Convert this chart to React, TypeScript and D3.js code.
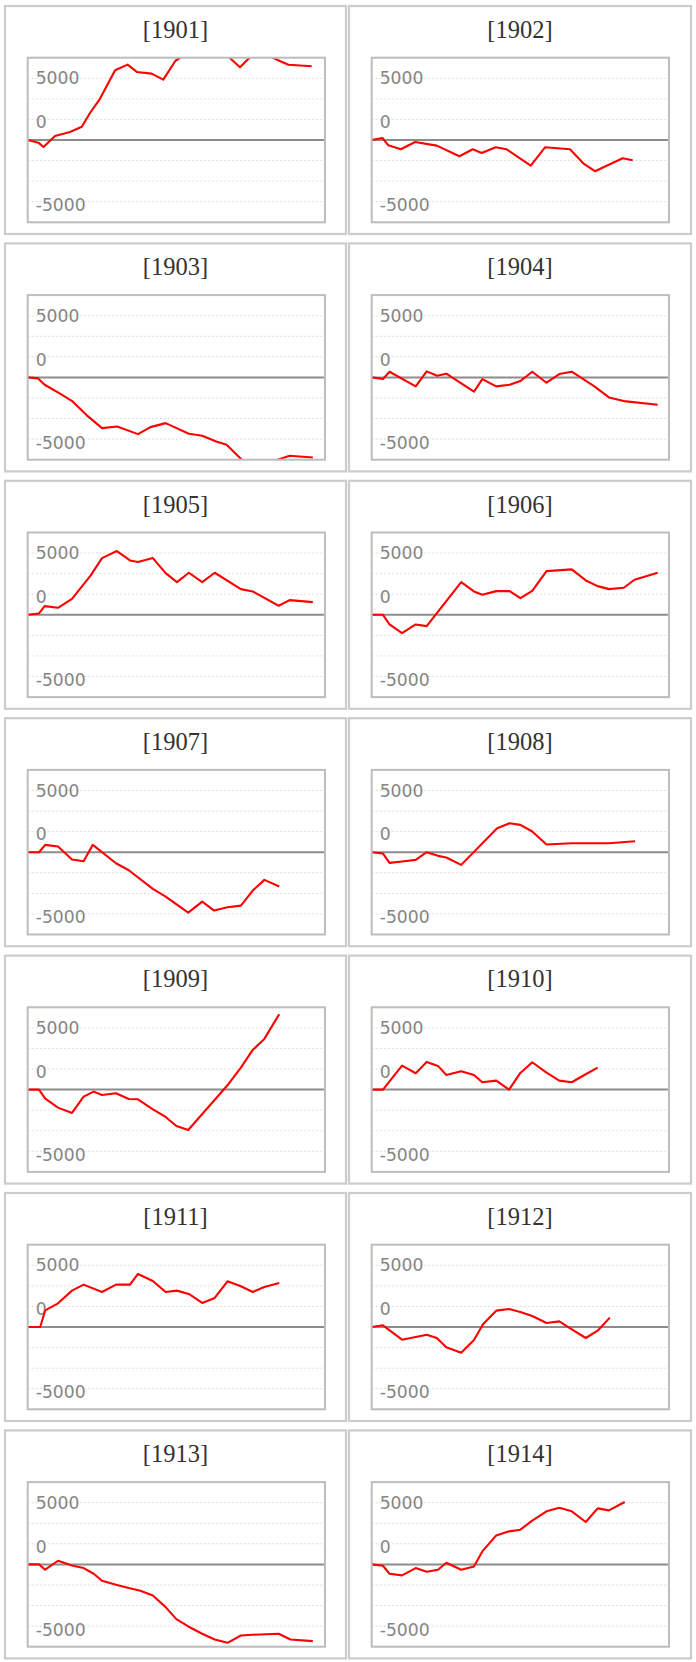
import React from 'react';
import * as d3 from 'd3';

type Pt = [number, number];

const years = ['1901', '1902', '1903', '1904', '1905', '1906', '1907', '1908', '1909', '1910', '1911', '1912', '1913', '1914'];

const s1901: Pt[] = [[0, 0], [3.6, -215], [5.3, -565], [9.2, 323], [14.2, 646], [18.2, 1076], [21.0, 2206], [24.3, 3336], [29.4, 5650], [33.6, 6107], [36.7, 5515], [41.7, 5380], [45.6, 4896], [49.7, 6420], [54.0, 7100], [58.8, 7400], [63.1, 7200], [67.3, 6800], [71.4, 5890], [76.0, 7000], [80.0, 6950], [84.8, 6400], [87.7, 6100], [95.5, 5970]];
const s1902: Pt[] = [[0, 0], [3.6, 161], [5.6, -430], [9.8, -753], [14.6, -161], [21.9, -457], [29.5, -1318], [34.0, -753], [37.0, -1049], [41.7, -592], [45.4, -753], [53.5, -2071], [58.3, -592], [66.7, -753], [71.4, -1937], [75.1, -2529], [84.4, -1480], [87.8, -1641]];
const s1903: Pt[] = [[0, 0], [3.5, -81], [5.7, -595], [10.6, -1270], [15.1, -1946], [19.8, -3054], [25.0, -4108], [30.1, -3973], [37.1, -4595], [41.3, -4027], [46.4, -3703], [54.2, -4568], [58.7, -4730], [63.4, -5190], [66.9, -5460], [73.0, -6900], [80.0, -7000], [85.6, -6540], [88.1, -6350], [95.9, -6490]];
const s1904: Pt[] = [[0, 0], [3.8, -135], [6.0, 460], [14.8, -730], [18.5, 487], [22.0, 135], [25.1, 297], [34.4, -1162], [37.2, -135], [41.9, -730], [46.4, -595], [50.0, -297], [54.0, 460], [58.8, -432], [63.1, 270], [67.3, 460], [74.9, -730], [79.8, -1622], [84.8, -1919], [96.2, -2216]];
const s1905: Pt[] = [[0, 0], [3.8, 108], [5.7, 703], [10.2, 568], [14.9, 1297], [21.2, 3190], [25.0, 4595], [30.0, 5163], [34.4, 4406], [37.1, 4270], [42.1, 4595], [46.4, 3379], [50.2, 2649], [54.2, 3406], [58.7, 2649], [62.9, 3406], [71.7, 2081], [75.7, 1892], [84.4, 730], [88.1, 1189], [95.9, 1027]];
const s1906: Pt[] = [[0, 0], [3.8, 0], [6.0, -784], [10.2, -1487], [14.8, -784], [18.5, -919], [30.1, 2649], [34.4, 1892], [37.2, 1622], [41.9, 1919], [46.4, 1919], [50.0, 1351], [54.0, 1946], [58.8, 3541], [67.3, 3676], [72.0, 2784], [76.0, 2324], [79.8, 2081], [84.8, 2189], [88.4, 2838], [96.2, 3406]];
const s1907: Pt[] = [[0, 0], [3.8, 0], [5.9, 595], [10.2, 460], [14.9, -595], [18.8, -730], [21.9, 595], [29.7, -892], [34.0, -1460], [42.1, -2973], [46.4, -3595], [54.0, -4892], [58.7, -4000], [62.7, -4730], [67.2, -4460], [71.7, -4325], [75.7, -3108], [79.6, -2243], [84.6, -2784]];
const s1908: Pt[] = [[0, 0], [3.8, -108], [6.0, -865], [10.2, -757], [14.8, -622], [18.5, 0], [22.3, -297], [25.1, -432], [30.1, -1027], [42.2, 1946], [46.4, 2351], [50.0, 2216], [54.0, 1676], [58.8, 622], [67.3, 730], [79.8, 730], [88.6, 892]];
const s1909: Pt[] = [[0, 0], [3.8, 0], [5.9, -730], [10.2, -1460], [14.9, -1892], [18.8, -568], [22.2, -162], [25.0, -432], [29.7, -297], [34.0, -757], [37.1, -784], [42.1, -1595], [46.4, -2216], [50.0, -2946], [54.0, -3270], [67.2, 351], [71.7, 1784], [75.7, 3216], [79.6, 4108], [84.6, 6108]];
const s1910: Pt[] = [[0, 0], [3.8, 0], [10.2, 1946], [14.8, 1324], [18.5, 2243], [22.3, 1919], [25.1, 1189], [30.1, 1487], [34.4, 1189], [37.2, 595], [41.9, 730], [46.2, 0], [50.0, 1351], [54.0, 2216], [58.8, 1378], [63.1, 730], [67.3, 595], [72.0, 1243], [76.0, 1784]];
const s1911: Pt[] = [[0, 0], [4.2, 0], [5.9, 1351], [10.2, 1919], [14.9, 2946], [18.8, 3433], [25.0, 2838], [29.7, 3433], [34.4, 3433], [37.1, 4298], [42.1, 3730], [46.4, 2838], [50.2, 2946], [54.2, 2676], [58.7, 1946], [62.9, 2351], [67.2, 3703], [71.7, 3298], [75.7, 2838], [79.6, 3243], [84.6, 3568]];
const s1912: Pt[] = [[0, 0], [3.8, 135], [10.2, -1027], [14.8, -811], [18.5, -622], [21.9, -892], [25.1, -1649], [30.1, -2081], [34.4, -1054], [37.5, 243], [41.9, 1324], [46.2, 1460], [50.0, 1216], [54.0, 892], [58.8, 324], [63.1, 459], [67.3, -189], [72.0, -892], [76.0, -297], [80.1, 757]];
const s1913: Pt[] = [[0, 0], [3.8, 0], [5.9, -432], [10.2, 297], [14.9, -81], [18.8, -297], [22.2, -757], [25.0, -1324], [29.7, -1649], [34.0, -1919], [37.9, -2135], [42.1, -2514], [46.4, -3460], [50.0, -4433], [54.0, -5027], [58.7, -5622], [62.9, -6081], [67.2, -6352], [71.7, -5757], [75.7, -5703], [84.4, -5622], [88.4, -6081], [95.9, -6216]];
const s1914: Pt[] = [[0, 0], [3.8, -108], [6.0, -757], [10.2, -892], [14.8, -297], [18.5, -595], [22.3, -432], [25.1, 135], [30.1, -432], [34.4, -162], [37.2, 1054], [41.9, 2351], [46.2, 2676], [50.0, 2811], [54.0, 3541], [58.8, 4298], [63.1, 4595], [67.3, 4298], [72.0, 3433], [76.0, 4541], [79.8, 4379], [85.1, 5054]];

const seriesList: Pt[][] = [s1901, s1902, s1903, s1904, s1905, s1906, s1907, s1908, s1909, s1910, s1911, s1912, s1913, s1914];

const yDomain: [number, number] = [-6667, 6667];
const xDomain: [number, number] = [0, 100];
const gridValues = [-5000, -3333.3, -1666.7, 1666.7, 3333.3, 5000];
const tickValues = [5000, 1666.7, -5000];
const tickLabels = ['5000', '0', '-5000'];
const tickDy = [6.2, 8.7, 9.5];

const W = 696;
const H = 1662;
const ROW_PITCH = 237.4;
const PANEL_TOP = 5;
const PANEL_H = 230;
const COL_X = [4, 348];
const COL_W = [343, 344];
const PLOT_DX = 23.7;
const PLOT_W = 297.3;
const PLOT_DY = 52.7;
const PLOT_H = 164.6;

function Panel({ idx }: { idx: number }) {
  const col = idx % 2;
  const row = Math.floor(idx / 2);
  const px = COL_X[col];
  const pw = COL_W[col];
  const py = PANEL_TOP + row * ROW_PITCH;
  const left = px + PLOT_DX;
  const top = py + PLOT_DY;
  const x = d3.scaleLinear().domain(xDomain).range([left, left + PLOT_W]);
  const y = d3.scaleLinear().domain(yDomain).range([top + PLOT_H, top]);
  const line = d3
    .line<Pt>()
    .x((d) => x(d[0]))
    .y((d) => y(d[1]));
  const clipId = `clip-${idx}`;
  return (
    <g>
      <rect x={px + 1} y={py + 1} width={pw - 2} height={PANEL_H - 2} fill="#fff" stroke="#cccccc" strokeWidth={2.2} />
      <text
        x={px + pw / 2}
        y={py + 32.7}
        textAnchor="middle"
        fontFamily="'Liberation Serif', 'Times New Roman', serif"
        fontSize={24.5}
        fill="#333"
      >
        [{years[idx]}]
      </text>
      <clipPath id={clipId}>
        <rect x={left} y={top} width={PLOT_W} height={PLOT_H} />
      </clipPath>
      {gridValues.map((v, i) => (
        <line
          key={i}
          x1={left}
          x2={left + PLOT_W}
          y1={y(v)}
          y2={y(v)}
          stroke="#dcdcdc"
          strokeWidth={1}
          strokeDasharray="2,2"
        />
      ))}
      {tickValues.map((v, i) => (
        <text
          key={i}
          x={left + 8}
          y={y(v) + tickDy[i]}
          fontFamily="'DejaVu Sans', Verdana, sans-serif"
          fontSize={17.2}
          fill="#858585"
        >
          {tickLabels[i]}
        </text>
      ))}
      <line x1={left} x2={left + PLOT_W} y1={y(0)} y2={y(0)} stroke="#8c8c8c" strokeWidth={2} />
      <path d={line(seriesList[idx]) || ''} fill="none" stroke="#ff0000" strokeWidth={2.1} strokeLinejoin="round" clipPath={`url(#${clipId})`} />
      <rect x={left} y={top} width={PLOT_W} height={PLOT_H} fill="none" stroke="#bdbdbd" strokeWidth={2} />
    </g>
  );
}

export default function App() {
  return (
    <svg width={W} height={H} style={{ position: 'absolute', left: 0, top: 0, background: '#fff' }}>
      <rect x={0} y={0} width={W} height={H} fill="#fff" />
      {years.map((_, i) => (
        <Panel key={i} idx={i} />
      ))}
    </svg>
  );
}
